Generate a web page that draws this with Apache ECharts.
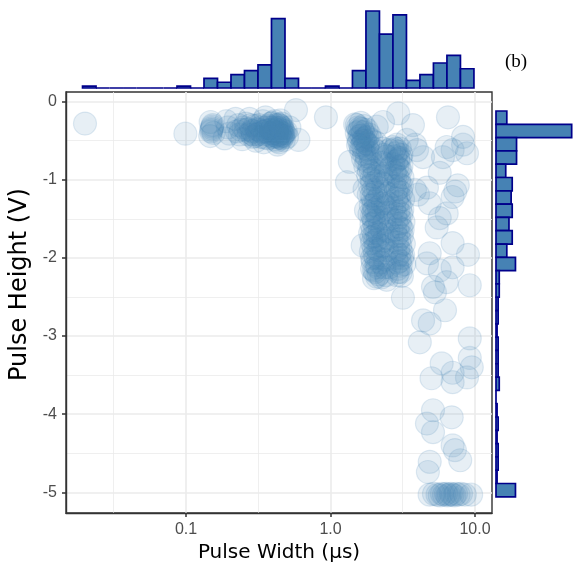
<!DOCTYPE html>
<html>
<head>
<meta charset="utf-8">
<script src="https://cdn.jsdelivr.net/npm/echarts@6/dist/echarts.min.js"></script>
<style>
  html, body { margin: 0; padding: 0; background: #fff; }
  #chart { width: 574px; height: 564px; }
</style>
</head>
<body>
<div id="chart"></div>
<script>
// points are [pulse width (us), pulse height (V)]
var leftGroup = [
  [0.020, -0.28], [0.099, -0.41],
  [0.148, -0.26], [0.152, -0.32], [0.150, -0.36], [0.155, -0.40], [0.147, -0.44], [0.151, -0.34], [0.149, -0.38], [0.153, -0.30],
  [0.19, -0.25], [0.195, -0.33], [0.20, -0.41], [0.185, -0.47],
  [0.22, -0.22], [0.23, -0.30], [0.24, -0.36], [0.235, -0.42], [0.245, -0.48], [0.225, -0.38], [0.25, -0.33],
  [0.26, -0.28], [0.27, -0.35], [0.28, -0.40], [0.29, -0.45], [0.30, -0.31], [0.275, -0.22], [0.305, -0.50], [0.285, -0.37], [0.31, -0.42],
  [0.32, -0.30], [0.33, -0.38], [0.34, -0.25], [0.35, -0.42], [0.36, -0.33], [0.37, -0.47], [0.38, -0.36], [0.33, -0.45], [0.355, -0.20], [0.385, -0.28], [0.345, -0.52], [0.375, -0.40],
  [0.395, -0.27], [0.40, -0.33], [0.405, -0.38], [0.41, -0.43], [0.415, -0.48], [0.42, -0.30], [0.425, -0.36], [0.43, -0.41], [0.435, -0.46],
  [0.44, -0.52], [0.445, -0.33], [0.45, -0.39], [0.455, -0.44], [0.46, -0.28], [0.465, -0.35], [0.47, -0.41], [0.475, -0.49], [0.40, -0.45],
  [0.41, -0.25], [0.42, -0.40], [0.43, -0.34], [0.44, -0.38], [0.45, -0.31], [0.46, -0.47], [0.47, -0.37], [0.415, -0.35], [0.425, -0.50],
  [0.435, -0.29], [0.445, -0.42], [0.455, -0.36], [0.465, -0.43], [0.405, -0.40], [0.43, -0.55], [0.45, -0.24], [0.46, -0.40], [0.42, -0.44],
  [0.49, -0.38], [0.50, -0.45], [0.52, -0.33], [0.577, -0.107], [0.60, -0.49],
  [0.26, -0.36], [0.27, -0.42], [0.28, -0.30], [0.29, -0.38], [0.30, -0.44], [0.31, -0.35], [0.32, -0.41], [0.33, -0.33],
  [0.34, -0.39], [0.35, -0.46], [0.36, -0.37], [0.37, -0.31], [0.38, -0.43], [0.39, -0.36], [0.40, -0.41], [0.41, -0.37],
  [0.42, -0.33], [0.43, -0.44], [0.44, -0.30], [0.45, -0.46], [0.46, -0.33], [0.47, -0.44], [0.48, -0.40], [0.44, -0.42],
  [0.38, -0.33], [0.35, -0.38], [0.32, -0.36], [0.29, -0.42]
];
var mainGroup = [
  [1.48, -0.29], [1.55, -0.33], [1.62, -0.27], [1.70, -0.31], [1.78, -0.36], [1.52, -0.40], [1.60, -0.44], [1.68, -0.39],
  [1.75, -0.46], [1.85, -0.42], [1.58, -0.52], [1.66, -0.56], [1.73, -0.50], [1.82, -0.55], [1.92, -0.49], [1.63, -0.63],
  [1.71, -0.67], [1.80, -0.61], [1.88, -0.66], [1.98, -0.60], [2.05, -0.52], [2.10, -0.64], [1.56, -0.47], [1.65, -0.35],
  [1.90, -0.72], [2.35, -0.68], [2.55, -0.62], [2.70, -0.58], [2.85, -0.66], [2.95, -0.72],
  [1.52, -0.30], [1.58, -0.38], [1.64, -0.43], [1.70, -0.48], [1.76, -0.53], [1.62, -0.58], [1.70, -0.60], [1.78, -0.70],
  [1.68, -0.73], [1.74, -0.82], [1.84, -0.88], [1.60, -0.34], [1.68, -0.50], [1.55, -0.55], [1.80, -0.45],
  [1.78, -0.76], [1.86, -0.82], [1.95, -0.79], [2.02, -0.88], [1.82, -0.94], [1.92, -0.99], [2.08, -1.02], [1.88, -1.08],
  [1.98, -1.13], [2.12, -1.10], [1.84, -1.19], [1.96, -1.24], [2.06, -1.28], [1.90, -1.33], [2.02, -1.38], [2.15, -1.35],
  [1.86, -1.44], [1.98, -1.49], [2.10, -1.52], [1.92, -1.57], [2.04, -1.62], [2.18, -1.60], [1.88, -1.68], [2.00, -1.72],
  [2.12, -1.76], [1.94, -1.81], [2.06, -1.86], [2.20, -1.84], [1.90, -1.92], [2.02, -1.96], [2.14, -2.00], [1.96, -2.05],
  [2.08, -2.09], [2.22, -2.06], [1.94, -2.14], [2.04, -2.18], [2.16, -2.21], [2.00, -2.26], [2.25, -2.25], [1.98, -1.40],
  [1.90, -0.90], [2.00, -0.96], [1.94, -1.05], [2.04, -1.16], [1.92, -1.20], [2.10, -1.25], [1.98, -1.32], [2.08, -1.42],
  [1.94, -1.46], [2.14, -1.48], [2.00, -1.55], [1.96, -1.65], [2.10, -1.68], [2.04, -1.78], [1.92, -1.74], [2.14, -1.90],
  [2.00, -1.88], [2.06, -2.00], [1.94, -2.00], [2.12, -2.12], [2.00, -2.16], [2.10, -2.24], [2.18, -1.70], [2.20, -1.20],
  [2.16, -0.90],
  [1.36, -0.77], [1.30, -1.03], [1.67, -1.84], [1.76, -1.39], [1.72, -1.12],
  [2.28, -0.78], [2.40, -0.92], [2.32, -1.05], [2.48, -1.18], [2.30, -1.30], [2.45, -1.42], [2.36, -1.55], [2.52, -1.66],
  [2.33, -1.78], [2.46, -1.90], [2.38, -2.02], [2.55, -2.12], [2.42, -2.22], [2.58, -0.85], [2.50, -1.00], [2.60, -1.50],
  [2.28, -1.65], [2.45, -2.28], [2.30, -0.60], [2.40, -0.80], [2.35, -1.15], [2.40, -1.35], [2.30, -1.85], [2.50, -1.75],
  [2.36, -2.12], [2.50, -1.30], [2.45, -0.70], [2.25, -0.95],
  [2.75, -0.62], [2.88, -0.55], [3.02, -0.60], [2.80, -0.70], [2.95, -0.74], [3.10, -0.68], [2.72, -0.80], [2.90, -0.84],
  [3.05, -0.88], [2.82, -0.95], [2.98, -1.00], [3.15, -0.97], [2.78, -1.08], [2.92, -1.12], [3.08, -1.16], [2.85, -1.24],
  [3.00, -1.28], [3.18, -1.25], [2.76, -1.36], [2.94, -1.40], [3.10, -1.44], [2.86, -1.52], [3.02, -1.56], [3.20, -1.54],
  [2.80, -1.64], [2.96, -1.68], [3.12, -1.72], [2.88, -1.80], [3.04, -1.84], [3.22, -1.82], [2.82, -1.92], [2.98, -1.96],
  [3.14, -2.00], [2.90, -2.06], [3.06, -2.10], [3.24, -2.08], [2.95, -2.18], [3.12, -2.23],
  [2.80, -0.60], [2.92, -0.64], [3.05, -0.72], [2.86, -0.76], [2.98, -0.86], [2.78, -0.90], [3.10, -0.82], [2.90, -0.96],
  [3.02, -1.06], [2.84, -1.14], [2.96, -1.20], [3.12, -1.08], [2.90, -1.30], [3.04, -1.36], [2.82, -1.44], [2.98, -1.48],
  [3.14, -1.38], [2.92, -1.60], [3.08, -1.62], [2.86, -1.72], [3.00, -1.76], [3.16, -1.64], [2.94, -1.88], [3.08, -1.92],
  [2.86, -2.00], [3.02, -2.04], [3.18, -1.96], [2.92, -2.14], [3.06, -2.18], [2.88, -2.22],
  [2.31, -0.26], [2.09, -0.32], [2.94, -0.15], [3.37, -0.49], [3.72, -0.30]
];
var tailGroup = [
  [0.93, -0.20], [6.5, -0.20], [3.84, -0.55], [4.37, -0.71], [3.97, -0.62], [6.37, -0.58], [7.0, -0.62], [8.27, -0.55],
  [8.8, -0.66], [6.0, -0.71], [8.27, -0.45], [5.7, -0.91], [7.6, -1.07], [3.84, -1.13], [4.65, -1.10], [7.0, -1.22],
  [4.03, -1.19], [4.86, -1.30], [6.37, -1.43], [5.7, -1.49], [5.43, -1.61], [7.3, -1.15], [7.0, -1.81], [8.94, -1.96],
  [4.86, -1.94], [4.65, -2.07], [5.7, -2.16], [7.0, -2.12], [6.37, -2.31], [9.2, -2.35], [5.12, -2.37], [5.28, -2.44],
  [3.17, -2.51], [6.2, -2.67], [4.37, -2.80], [4.86, -2.84], [4.15, -3.08], [9.2, -3.03], [5.88, -3.35], [5.0, -3.54],
  [7.0, -3.59], [8.8, -3.53], [9.2, -3.28], [9.5, -3.40], [7.0, -3.47], [5.12, -3.95], [6.9, -4.04], [4.65, -4.12],
  [5.12, -4.23], [7.0, -4.40], [7.26, -4.46], [7.9, -4.59], [4.86, -4.61], [4.72, -4.74]
];
var floorGroup = [
  [4.85, -5.03], [5.2, -5.02], [5.5, -5.03], [5.7, -5.04], [5.9, -5.02], [6.1, -5.03], [6.3, -5.02], [6.45, -5.04],
  [6.6, -5.03], [6.8, -5.02], [7.0, -5.03], [7.2, -5.04], [7.4, -5.02], [7.7, -5.03], [8.0, -5.02], [8.5, -5.03], [9.4, -5.03]
];

// marginal histograms
var topBinStart = -1.716;   // log10(us), left edge of first bin
var topBinWidth = 0.0934;
var topCounts = [1, 0, 0, 0, 0, 0, 0, 1, 0, 5, 3, 7, 9, 12, 36, 5, 0, 0, 1, 0, 9, 40, 28, 38, 4, 7, 13, 17, 10];
var rightBinStart = -0.119; // V, top edge of first bin
var rightBinWidth = 0.1703;
var rightCounts = [10, 70, 19, 19, 9, 15, 14, 15, 12, 15, 10, 18, 3, 3, 2, 2, 1, 2, 2, 2, 3, 0, 1, 2, 1, 2, 2, 1, 18];

var xTicks = [0.1, 1, 10];
var xMinor = [0.0316, 0.316, 3.16];
var yTicks = [0, -1, -2, -3, -4, -5];
var yMinor = [-0.5, -1.5, -2.5, -3.5, -4.5];

var xMin = -1.8304, xMax = 1.1176;
var yMin = -5.265, yMax = 0.124;

var points = leftGroup.concat(mainGroup, tailGroup, floorGroup).map(function (p) {
  return [Math.log10(p[0]), p[1]]
})
var topBins = topCounts.map(function (c, i) {
  var a = topBinStart + i * topBinWidth
  return [a, a + topBinWidth, c]
})
var rightBins = rightCounts.map(function (c, i) {
  var a = rightBinStart - i * rightBinWidth
  return [a, a - rightBinWidth, c]
})

var histStyle = { fill: '#4682B4', stroke: '#00008B', lineWidth: 1.7 }
var gridLine = '#EBEBEB'
var frame = { show: true, onZero: false, lineStyle: { color: '#333333', width: 1.4 } }

var chart = echarts.init(document.getElementById('chart'))
var option = {
  animation: false,
  title: {
    text: '(b)', left: 500, top: 48,
    textStyle: { fontFamily: 'Liberation Serif', fontSize: 19, fontWeight: 'normal', color: '#000' }
  },
  grid: [
    { left: 66, top: 92, width: 426, height: 421, outerBoundsMode: 'none', show: true, borderColor: '#333333', borderWidth: 1.4, backgroundColor: 'transparent' },
    { left: 66, top: 11, width: 426, height: 77, outerBoundsMode: 'none' },
    { left: 496, top: 92, width: 76, height: 421, outerBoundsMode: 'none' }
  ],
  xAxis: [
    {
      gridIndex: 0, type: 'value', min: xMin, max: xMax, position: 'bottom',
      name: 'Pulse Width (\u03bcs)', nameLocation: 'middle', nameGap: 30,
      nameTextStyle: { fontFamily: 'DejaVu Sans', fontSize: 20, color: '#000' },
      axisLine: frame,
      axisTick: { show: true, customValues: xTicks.map(Math.log10), length: 4, lineStyle: { color: '#333', width: 1.5 } },
      axisLabel: {
        customValues: xTicks.map(Math.log10), margin: 9, fontFamily: 'Liberation Sans', fontSize: 16, color: '#4D4D4D',
        formatter: function (v) { return Math.pow(10, v).toFixed(1) }
      },
      splitLine: { show: true, lineStyle: { color: gridLine, width: 1.6 } }
    },
    {
      gridIndex: 0, type: 'value', min: xMin, max: xMax, position: 'bottom',
      axisLine: { show: false, onZero: false }, axisLabel: { show: false },
      axisTick: { show: false, customValues: xMinor.map(Math.log10) },
      splitLine: { show: true, lineStyle: { color: gridLine, width: 0.8 } }
    },
    { gridIndex: 1, type: 'value', min: xMin, max: xMax, show: false },
    { gridIndex: 2, type: 'value', min: 0, max: 70.3, show: false }
  ],
  yAxis: [
    {
      gridIndex: 0, type: 'value', min: yMin, max: yMax, position: 'left',
      name: 'Pulse Height (V)', nameLocation: 'middle', nameGap: 25,
      nameTextStyle: { fontFamily: 'DejaVu Sans', fontSize: 24, color: '#000', padding: [0, 0, 0, 36] },
      axisLine: frame,
      axisTick: { show: true, customValues: yTicks, length: 4, lineStyle: { color: '#333', width: 1.5 } },
      axisLabel: { customValues: yTicks, margin: 9, fontFamily: 'Liberation Sans', fontSize: 16, color: '#4D4D4D' },
      splitLine: { show: true, lineStyle: { color: gridLine, width: 1.6 } }
    },
    {
      gridIndex: 0, type: 'value', min: yMin, max: yMax, position: 'left',
      axisLine: { show: false, onZero: false }, axisLabel: { show: false },
      axisTick: { show: false, customValues: yMinor },
      splitLine: { show: true, lineStyle: { color: gridLine, width: 0.8 } }
    },
    { gridIndex: 1, type: 'value', min: 0, max: 40, show: false },
    { gridIndex: 2, type: 'value', min: yMin, max: yMax, show: false }
  ],
  series: [
    {
      type: 'scatter', xAxisIndex: 0, yAxisIndex: 0,
      symbolSize: 23,
      itemStyle: { color: 'rgba(70,130,180,0.16)', borderColor: 'rgba(70,130,180,0.2)', borderWidth: 1.2 },
      data: points
    },
    {
      type: 'custom', xAxisIndex: 2, yAxisIndex: 2,
      encode: { x: [0, 1], y: 2 },
      renderItem: function (params, api) {
        var p0 = api.coord([api.value(0), api.value(2)])
        var p1 = api.coord([api.value(1), 0])
        return {
          type: 'rect',
          shape: { x: p0[0], y: p0[1], width: p1[0] - p0[0], height: p1[1] - p0[1] },
          style: histStyle
        }
      },
      data: topBins
    },
    {
      type: 'custom', xAxisIndex: 3, yAxisIndex: 3,
      encode: { x: 2, y: [0, 1] },
      renderItem: function (params, api) {
        var p0 = api.coord([0, api.value(0)])
        var p1 = api.coord([api.value(2), api.value(1)])
        return {
          type: 'rect',
          shape: { x: p0[0], y: p0[1], width: p1[0] - p0[0], height: p1[1] - p0[1] },
          style: histStyle
        }
      },
      data: rightBins
    }
  ]
}
option && chart.setOption(option)
</script>
</body>
</html>
